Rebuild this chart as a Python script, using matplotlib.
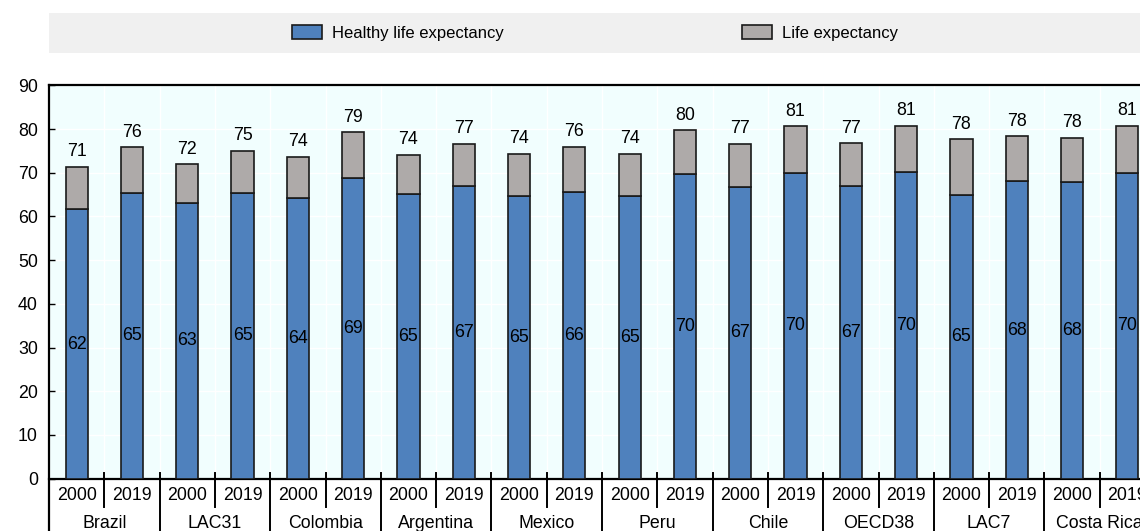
import matplotlib
matplotlib.use("Agg")
import matplotlib.pyplot as plt
import matplotlib.transforms as mtransforms
from matplotlib.patches import Rectangle, Patch
import numpy as np

plt.rcParams['font.family'] = ['Liberation Sans', 'DejaVu Sans']

countries = ["Brazil", "LAC31", "Colombia", "Argentina", "Mexico",
             "Peru", "Chile", "OECD38", "LAC7", "Costa Rica"]
years = ["2000", "2019"]

# Values per country: (2000, 2019)
life_exp = [71.3, 75.8, 71.9, 74.9, 73.7, 79.2, 74.0, 76.6, 74.3, 75.9,
            74.3, 79.7, 76.6, 80.6, 76.7, 80.8, 77.6, 78.3, 77.9, 80.7]
healthy_life_exp = [61.6, 65.3, 63.1, 65.3, 64.1, 68.8, 65.1, 67.0, 64.6, 65.6,
                    64.7, 69.6, 66.8, 69.9, 67.0, 70.2, 64.9, 68.0, 67.9, 69.9]

blue = "#4F81BD"
grey = "#AEAAA9"
edge = "#1a1a1a"
FS = 12.8

W, H = 1140, 531
fig = plt.figure(figsize=(W / 100, H / 100), dpi=100)

# Plot area (pixel geometry converted to figure fractions)
left_px, top_px, bottom_px, width_px = 49, 85.3, 478.6, 1106
ax = fig.add_axes([left_px / W, (H - bottom_px) / H, width_px / W, (bottom_px - top_px) / H])
ax.set_facecolor("#F1FEFE")

n = len(life_exp)
x = np.arange(n)
bw = 0.4
gap = [t - h for t, h in zip(life_exp, healthy_life_exp)]

ax.bar(x, healthy_life_exp, width=bw, color=blue, edgecolor=edge, linewidth=1.2, zorder=3)
ax.bar(x, gap, width=bw, bottom=healthy_life_exp, color=grey, edgecolor=edge, linewidth=1.2, zorder=3)

for xi, h, t in zip(x, healthy_life_exp, life_exp):
    ax.text(xi, h / 2, f"{h:.0f}", ha="center", va="center", fontsize=FS, color="black", zorder=4)
    ax.text(xi, t + 3.5, f"{t:.0f}", ha="center", va="center", fontsize=FS, color="black", zorder=4)

ax.set_xlim(-0.5, n - 0.5)
ax.set_ylim(0, 90)
ax.set_yticks(np.arange(0, 91, 10))
ax.tick_params(axis="y", direction="in", length=4, width=1, labelsize=FS, pad=8, colors="black")
ax.set_xticks(np.arange(-0.5, n, 1.0), minor=False)
ax.tick_params(axis="x", length=0, labelbottom=False)
ax.grid(True, color="white", linewidth=1.0, zorder=0)
ax.set_axisbelow(True)

ax.spines["right"].set_visible(False)
ax.spines["left"].set_visible(False)
for s in ["top", "bottom"]:
    ax.spines[s].set_linewidth(1.6)
    ax.spines[s].set_color("black")

# Category table below the axis
trans = mtransforms.blended_transform_factory(ax.transData, ax.transAxes)
span = bottom_px - top_px
fig_bottom = -(H - bottom_px) / span - 0.01
tick_up = 6 / span
year_sep_bottom = -(506.7 - bottom_px) / span

ax.plot([-0.5, -0.5], [1, fig_bottom], transform=trans, color="black", lw=1.6, clip_on=False, zorder=5)
for g in range(len(countries)):
    xs = -0.5 + 2 * g
    if g > 0:
        ax.plot([xs, xs], [tick_up, fig_bottom], transform=trans, color="black", lw=1.4, clip_on=False)
    ax.plot([xs + 1, xs + 1], [tick_up, year_sep_bottom], transform=trans, color="black", lw=1.4, clip_on=False)
    for k, yr in enumerate(years):
        ax.text(2 * g + k, -(495 - bottom_px) / span, yr, transform=trans,
                ha="center", va="center", fontsize=FS)
    ax.text(2 * g + 0.5, -(524 - bottom_px) / span, countries[g], transform=trans,
            ha="center", va="center", fontsize=FS)

# Legend band
fig.patches.append(Rectangle((49 / W, 1 - 53 / H), (W - 49) / W, 40 / H, transform=fig.transFigure,
                             facecolor="#F0F0F0", edgecolor="none", zorder=0))
handles = [Patch(facecolor=blue, edgecolor=edge, linewidth=1.2, label="Healthy life expectancy"),
           Patch(facecolor=grey, edgecolor=edge, linewidth=1.2, label="Life expectancy")]
fig.legend(handles=handles, loc="center", bbox_to_anchor=(595 / W, 1 - 33 / H), ncol=2,
           frameon=False, fontsize=12, handlelength=1.8, handleheight=0.9, handletextpad=0.6,
           columnspacing=14.3)

fig.savefig("out.png", dpi=100)
